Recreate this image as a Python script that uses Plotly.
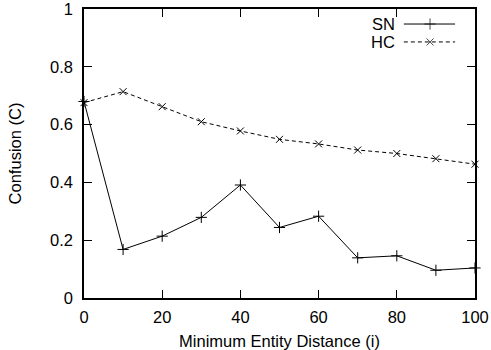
import plotly.graph_objects as go

x_vals = [0, 10, 20, 30, 40, 50, 60, 70, 80, 90, 100]
sn_vals = [0.680, 0.168, 0.214, 0.279, 0.391, 0.244, 0.283, 0.139, 0.146, 0.096, 0.104]
hc_vals = [0.676, 0.714, 0.662, 0.610, 0.578, 0.549, 0.533, 0.512, 0.500, 0.482, 0.463]
series_names = ["SN", "HC"]
x_title = "Minimum Entity Distance (i)"
y_title = "Confusion (C)"

FONT = "Liberation Sans, Arial, Helvetica, sans-serif"
FS = 16.5

fig = go.Figure()
fig.add_trace(go.Scatter(
    x=x_vals, y=sn_vals, mode="lines+markers", name=series_names[0],
    line=dict(color="black", width=1),
    marker=dict(symbol="cross-thin", size=8, line=dict(color="black", width=1)),
    cliponaxis=False, showlegend=False))
fig.add_trace(go.Scatter(
    x=x_vals, y=hc_vals, mode="lines+markers", name=series_names[1],
    line=dict(color="black", width=1, dash="4px,3px"),
    marker=dict(symbol="x-thin", size=7, line=dict(color="black", width=1)),
    cliponaxis=False, showlegend=False))

# legend keys (gnuplot style: text then sample) on a hidden overlay axis
legend_rows = [(series_names[0], 0.948, "cross-thin", "solid", 8),
               (series_names[1], 0.886, "x-thin", "4px,3px", 7)]
for name, yy, sym, dash, sz in legend_rows:
    fig.add_trace(go.Scatter(
        x=[0.818, 0.885, 0.949], y=[yy, yy, yy], xaxis="x2", yaxis="y2",
        mode="lines+markers", line=dict(color="black", width=1, dash=dash),
        marker=dict(symbol=sym, size=[0, sz, 0], line=dict(color="black", width=1)),
        showlegend=False, hoverinfo="skip", cliponaxis=False))
    fig.add_annotation(x=0.800, y=yy, xref="paper", yref="paper", text=name,
                       showarrow=False, xanchor="right", yanchor="middle",
                       font=dict(family=FONT, size=FS, color="black"))

axis_common = dict(showline=True, linecolor="black", linewidth=1.5, mirror="ticks",
                   ticks="inside", ticklen=8, tickwidth=1, tickcolor="black",
                   showgrid=False, zeroline=False, automargin=False,
                   ticklabeloverflow="allow",
                   tickfont=dict(family=FONT, size=FS, color="black"))

fig.update_layout(
    width=491, height=350,
    margin=dict(l=84, r=16, t=9, b=52),
    paper_bgcolor="white", plot_bgcolor="white",
    font=dict(family=FONT, size=FS, color="black"),
    xaxis=dict(range=[0, 100], tickmode="array", tickvals=[0, 20, 40, 60, 80, 100],
               title=dict(text=x_title, standoff=12, font=dict(family=FONT, size=FS)),
               ticklabelstandoff=3, **axis_common),
    yaxis=dict(range=[0, 1], tickmode="array", tickvals=[0, 0.2, 0.4, 0.6, 0.8, 1],
               ticktext=["0", "0.2", "0.4", "0.6", "0.8", "1"],
               title=dict(text=y_title, standoff=24, font=dict(family=FONT, size=FS)),
               ticklabelstandoff=6, **axis_common),
    xaxis2=dict(range=[0, 1], overlaying="x", visible=False, anchor="y2"),
    yaxis2=dict(range=[0, 1], overlaying="y", visible=False, anchor="x2"),
)

fig.write_html("out.html")
